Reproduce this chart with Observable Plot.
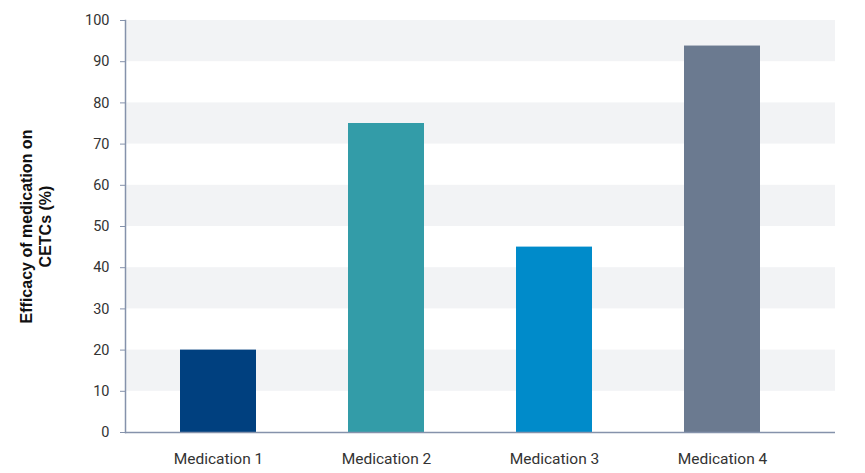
<!DOCTYPE html>
<html>
<head>
<meta charset="utf-8">
<script src="https://cdn.jsdelivr.net/npm/d3@7"></script>
<script src="https://cdn.jsdelivr.net/npm/@observablehq/plot@0.6"></script>
<style>
  html, body { margin: 0; padding: 0; background: #fff; }
  #chart svg { display: block; }
</style>
</head>
<body>
<div id="chart"></div>
<script>
// Efficacy of each medication on CETCs, in percent
const medications = ["Medication 1", "Medication 2", "Medication 3", "Medication 4"];
const efficacy = [20, 75, 45, 93.8];
const barColors = ["#00407f", "#339ca8", "#008bca", "#6b7a90"];
const yTicks = [0, 10, 20, 30, 40, 50, 60, 70, 80, 90, 100];
const shadedBandStarts = [10, 30, 50, 70, 90];
const yLabel = "Efficacy of medication on\nCETCs (%)";

const data = medications.map((name, i) => ({name, value: efficacy[i]}));
const axisColor = "#8592ab";

const chart = Plot.plot({
  width: 865,
  height: 473,
  marginLeft: 125,
  marginRight: 30,
  marginTop: 20,
  marginBottom: 41,
  style: {fontFamily: "Roboto, sans-serif", color: "#333", background: "#fff"},
  x: {domain: medications, paddingInner: 0.548, paddingOuter: 0.386, align: 0.42, label: null},
  y: {domain: [0, 100], label: null},
  color: {domain: medications, range: barColors},
  marks: [
    // alternating background bands
    Plot.rect(shadedBandStarts, {y1: d => d, y2: d => d + 10, fill: "#f2f3f5"}),
    Plot.barY(data, {x: "name", y: "value", fill: "name"}),
    Plot.axisY({ticks: yTicks, tickSize: 5, tickPadding: 11, stroke: axisColor, fontSize: 14.5, fill: "#333", label: null}),
    Plot.axisX({tickSize: 0, tickPadding: 20, fontSize: 15.5, fill: "#333", label: null}),
    Plot.frame({anchor: "left", stroke: axisColor, strokeWidth: 1.5}),
    Plot.ruleY([0], {stroke: axisColor, strokeWidth: 1.5}),
    Plot.text([yLabel], {
      frameAnchor: "left", dx: -90, rotate: -90,
      fontFamily: "Liberation Sans, Arial, sans-serif", fontWeight: "bold",
      fontSize: 16, lineHeight: 1.2, fill: "#111", textAnchor: "middle"
    })
  ]
});
document.getElementById("chart").appendChild(chart);
</script>
</body>
</html>
